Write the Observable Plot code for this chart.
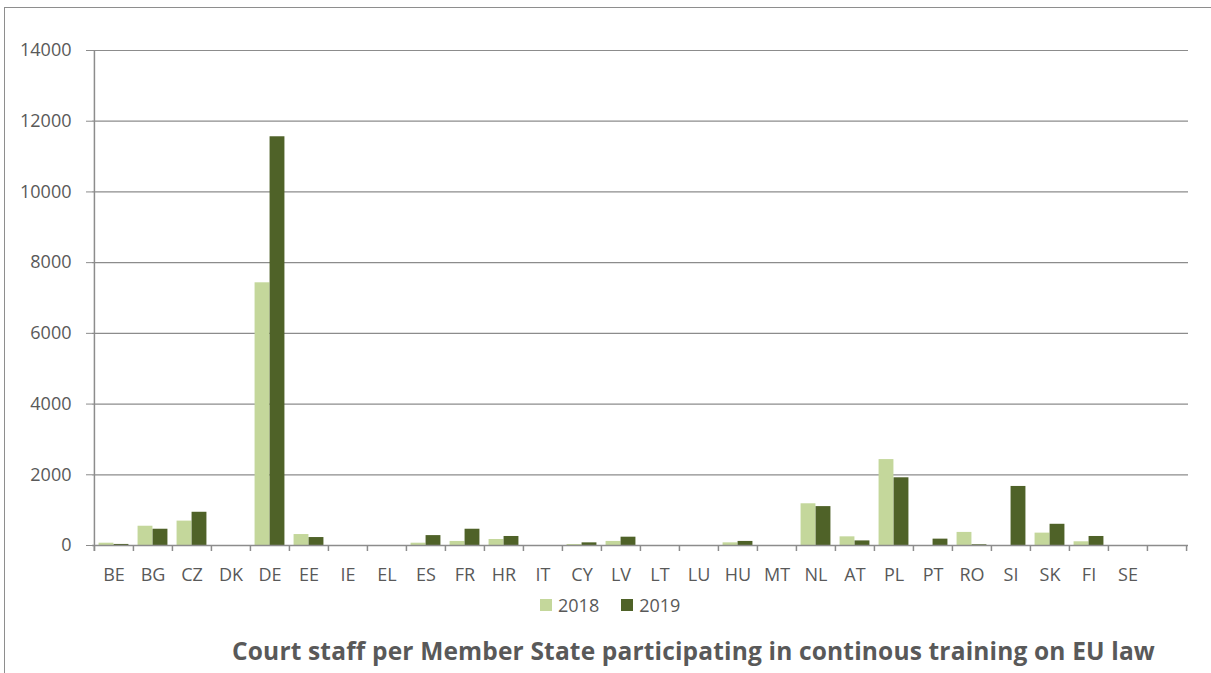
<!DOCTYPE html>
<html>
<head>
<meta charset="utf-8">
<script src="https://cdn.jsdelivr.net/npm/d3@7"></script>
<script src="https://cdn.jsdelivr.net/npm/@observablehq/plot@0.6"></script>
<style>
  html, body { margin: 0; padding: 0; background: #fff; }
  body { width: 1211px; height: 673px; position: relative; overflow: hidden; font-family: "Open Sans", sans-serif; color: #595959; }
  #frame { position: absolute; left: 4px; top: 7px; width: 1300px; height: 800px; border-top: 1px solid #8e8e8e; border-left: 1.5px solid #8e8e8e; }
  #chart { position: absolute; left: 0; top: 0; }
  #legend { position: absolute; left: 540px; top: 594px; display: flex; align-items: center; font-size: 18px; line-height: 22px; }
  #legend .sw { width: 12px; height: 12px; display: inline-block; margin-right: 6px; }
  #legend .item { display: flex; align-items: center; margin-right: 22px; }
  #title { position: absolute; left: 232px; top: 635px; font-weight: bold; font-size: 24.5px; white-space: nowrap; line-height: 32px; }
</style>
</head>
<body>
<div id="frame"></div>
<div id="chart"></div>
<div id="legend"></div>
<div id="title">Court staff per Member State participating in continous training on EU law</div>
<script>
const categories = ["BE","BG","CZ","DK","DE","EE","IE","EL","ES","FR","HR","IT","CY","LV","LT","LU","HU","MT","NL","AT","PL","PT","RO","SI","SK","FI","SE"];
const values2018 = [65, 545, 690, 0, 7430, 310, 0, 0, 65, 115, 170, 0, 28, 115, 0, 0, 75, 0, 1180, 245, 2430, 0, 370, 0, 350, 105, 0];
const values2019 = [30, 460, 940, 0, 11560, 225, 0, 0, 280, 460, 255, 0, 75, 235, 0, 0, 115, 0, 1100, 130, 1915, 180, 20, 1670, 600, 255, 0];
const seriesNames = ["2018", "2019"];
const seriesColors = ["#c4d79b", "#4f6228"];
const yTicks = [0, 2000, 4000, 6000, 8000, 10000, 12000, 14000];

const domainX = [...categories, ""];
const rows2018 = categories.map((c, i) => ({cat: c, v: values2018[i]}));
const rows2019 = categories.map((c, i) => ({cat: c, v: values2019[i]}));

const W = 1211, ML = 92, MR = 23;
const bw = (W - ML - MR) / domainX.length;
const barW = 15;
const side = bw / 2 - barW;
const axisColor = "#8c8c8c";

const plot = Plot.plot({
  width: W,
  height: 590,
  marginLeft: ML,
  marginRight: MR,
  marginTop: 50,
  marginBottom: 45,
  style: {fontFamily: "'Open Sans', sans-serif", fontSize: "18px", color: "#595959", background: "transparent"},
  x: {type: "band", domain: domainX, padding: 0, label: null},
  y: {domain: [0, 14000], ticks: yTicks, label: null},
  marks: [
    Plot.gridY(yTicks, {stroke: axisColor, strokeOpacity: 1, strokeWidth: 1.2}),
    Plot.barY(rows2018, {x: "cat", y: "v", fill: seriesColors[0], insetLeft: side, insetRight: bw - side - barW}),
    Plot.barY(rows2019, {x: "cat", y: "v", fill: seriesColors[1], insetLeft: bw / 2, insetRight: side}),
    Plot.ruleY([0], {stroke: axisColor, strokeWidth: 1.5}),
    Plot.ruleX(domainX, {x: d => d, dx: -bw / 2, y1: 14000, y2: 0, strokeWidth: 1.5, stroke: axisColor, filter: (d, i) => i === 0, insetBottom: -6}),
    Plot.ruleX(domainX, {x: d => d, dx: -bw / 2, y1: 0, y2: 0, insetBottom: -6, stroke: axisColor, strokeWidth: 1.5}),
    Plot.ruleX([domainX[domainX.length - 1]], {x: d => d, dx: bw / 2, y1: 0, y2: 0, insetBottom: -6, stroke: axisColor, strokeWidth: 1.5}),
    Plot.axisY({ticks: yTicks, tickSize: 6, tickPadding: 15, stroke: axisColor, fill: "#595959", fontSize: 18, tickFormat: d => String(d)}),
    Plot.axisX({tickSize: 0, tickPadding: 23, fill: "#595959", fontSize: 18})
  ]
});
document.getElementById("chart").appendChild(plot);

const legend = document.getElementById("legend");
seriesNames.forEach((name, i) => {
  const item = document.createElement("span");
  item.className = "item";
  const sw = document.createElement("span");
  sw.className = "sw";
  sw.style.background = seriesColors[i];
  item.appendChild(sw);
  item.appendChild(document.createTextNode(name));
  legend.appendChild(item);
});

// fit title width to reference (~923px)
const title = document.getElementById("title");
const target = 923;
const w = title.getBoundingClientRect().width;
const n = title.textContent.length;
title.style.letterSpacing = ((target - w) / n) + "px";
</script>
</body>
</html>
